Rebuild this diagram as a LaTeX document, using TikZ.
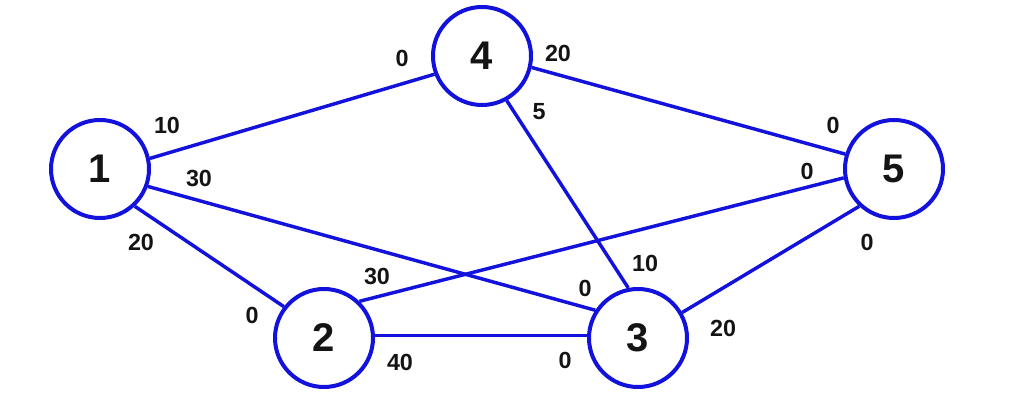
\documentclass[tikz,border=0pt]{standalone}
\usepackage{fontspec}
\setmainfont{Liberation Sans}
\definecolor{edgeblue}{RGB}{18,18,220}
\definecolor{txt}{RGB}{20,20,20}
\begin{document}
\begin{tikzpicture}[x=0.75pt,y=-0.75pt,
  vertex/.style={circle,draw=edgeblue,line width=3pt,minimum size=73.5pt,inner sep=0pt,
    fill=white,text=txt,font=\fontsize{30}{30}\selectfont\bfseries},
  link/.style={draw=edgeblue,line width=2.6pt},
  wlabel/.style={text=txt,font=\fontsize{17.5}{18}\selectfont\bfseries,inner sep=0pt}]
\useasboundingbox (0,0) rectangle (1033,413);
\node[vertex] (n1) at (100,169) {1};
\node[vertex] (n4) at (482,56) {4};
\node[vertex] (n5) at (894,169) {5};
\node[vertex] (n2) at (324,338) {2};
\node[vertex] (n3) at (638,338) {3};
\path[link] (n1.12) -- (n4.201);
\path[link] (n1.-20) -- (n3.147);
\path[link] (n1.-47) -- (n2.142);
\path[link] (n4.-13) -- (n5.163);
\path[link] (n4.-61) -- (n3.101);
\path[link] (n5.190) -- (n2.46);
\path[link] (n5.227) -- (n3.30);
\path[link] (n2.3) -- (n3.177);
\node[wlabel] (l1) at (167,125) {10};
\node[wlabel] (l2) at (199,178) {30};
\node[wlabel] (l3) at (141,242) {20};
\node[wlabel] (l4) at (402,58) {0};
\node[wlabel] (l5) at (558,53) {20};
\node[wlabel] (l6) at (539,112) {5};
\node[wlabel] (l7) at (833,125) {0};
\node[wlabel] (l8) at (807,171) {0};
\node[wlabel] (l9) at (867,242) {0};
\node[wlabel] (l10) at (645,263) {10};
\node[wlabel] (l11) at (377,276) {30};
\node[wlabel] (l12) at (585,288) {0};
\node[wlabel] (l13) at (252,315) {0};
\node[wlabel] (l14) at (400,362) {40};
\node[wlabel] (l15) at (565,360) {0};
\node[wlabel] (l16) at (723,328) {20};
\end{tikzpicture}
\end{document}
